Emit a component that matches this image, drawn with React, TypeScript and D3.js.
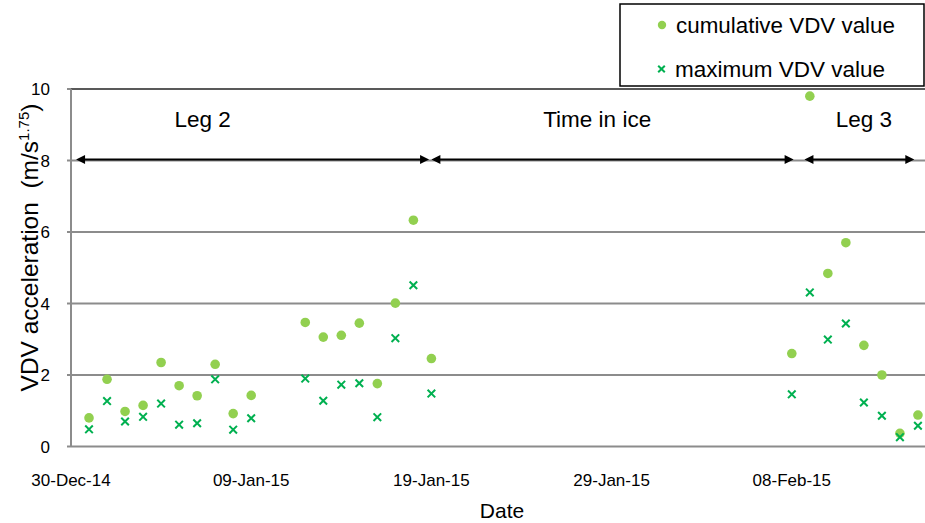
import React from "react";
import * as d3 from "d3";

const cumDates = ["2014-12-31","2015-01-01","2015-01-02","2015-01-03","2015-01-04","2015-01-05","2015-01-06","2015-01-07","2015-01-08","2015-01-09","2015-01-12","2015-01-13","2015-01-14","2015-01-15","2015-01-16","2015-01-17","2015-01-18","2015-01-19","2015-02-08","2015-02-09","2015-02-10","2015-02-11","2015-02-12","2015-02-13","2015-02-14","2015-02-15"];
const cumulativeVDV = [0.80,1.88,0.98,1.15,2.35,1.70,1.42,2.30,0.92,1.43,3.47,3.06,3.11,3.45,1.76,4.01,6.33,2.46,2.60,9.80,4.84,5.70,2.83,2.00,0.37,0.88];
const maximumVDV = [0.48,1.27,0.70,0.83,1.20,0.61,0.65,1.88,0.47,0.79,1.90,1.28,1.73,1.77,0.82,3.03,4.51,1.48,1.46,4.31,2.99,3.44,1.23,0.86,0.26,0.58];
const yTicks = [0, 2, 4, 6, 8, 10];
const xTickDates = ["2014-12-30","2015-01-09","2015-01-19","2015-01-29","2015-02-08"];
const legNames = ["Leg 2", "Time in ice", "Leg 3"];
const legStartDays = [0.28, 20.0, 40.7];
const legEndDays = [19.87, 40.1, 46.8];
const legLabelDays = [7.3, 29.2, 44.0];
const arrowValue = 8;

const font = "Arial, 'Liberation Sans', sans-serif";
const parse = (s: string) => new Date(s + "T00:00:00Z");
const fmt = d3.utcFormat("%d-%b-%y");

export default function App() {
  const W = 925, H = 523;
  const t0 = parse("2014-12-30");
  const x = d3.scaleUtc().domain([t0, parse("2015-02-17")]).range([71, 71 + 18.02 * 49]);
  const y = d3.scaleLinear().domain([0, 10]).range([446.5, 89]);
  const dayX = (d: number) => x(new Date(t0.getTime() + d * 86400000));
  const left = 71, right = W;

  const arrowHead = (tipX: number, yy: number, dir: number) => {
    const L = 9, h = 4.5;
    return `M${tipX},${yy} L${tipX - dir * L},${yy - h} L${tipX - dir * L},${yy + h} Z`;
  };
  const cross = (cx: number, cy: number, s = 4) => `M${cx - s},${cy - s} L${cx + s},${cy + s} M${cx - s},${cy + s} L${cx + s},${cy - s}`;

  return (
    <svg width={W} height={H} style={{ position: "absolute", left: 0, top: 0, background: "#fff" }} fontFamily={font}>
      <rect x={0} y={0} width={W} height={H} fill="#fff" />
      {yTicks.map((t) => (
        <g key={t}>
          {t > 0 && <line x1={left} x2={right} y1={y(t)} y2={y(t)} stroke={t === 10 ? "#595959" : "#8c8c8c"} strokeWidth={2} />}
          <line x1={left - 4} x2={left} y1={y(t)} y2={y(t)} stroke="#8c8c8c" strokeWidth={2} />
          <text x={50} y={y(t) + 6} textAnchor="end" fontSize={17} fill="#000">{t}</text>
        </g>
      ))}
      <line x1={left} x2={left} y1={y(10)} y2={y(0)} stroke="#8c8c8c" strokeWidth={2} />
      <line x1={left} x2={right} y1={y(0)} y2={y(0)} stroke="#8c8c8c" strokeWidth={2} />
      {xTickDates.map((d) => (
        <text key={d} x={x(parse(d))} y={486} textAnchor="middle" fontSize={17} fill="#000">{fmt(parse(d))}</text>
      ))}
      <text x={502} y={518} textAnchor="middle" fontSize={21} fill="#000">Date</text>
      <text transform={`translate(38,247.5) rotate(-90)`} textAnchor="middle" fontSize={24.5} fill="#000">
        VDV acceleration{"\u00a0\u00a0"}(m/s<tspan dy={-9} fontSize={15}>1.75</tspan><tspan dy={9}>)</tspan>
      </text>

      {legNames.map((n, i) => {
        const yy = y(arrowValue) - 1;
        const x1 = dayX(legStartDays[i]);
        const x2 = dayX(legEndDays[i]);
        return (
          <g key={n}>
            <line x1={x1 + 6} x2={x2 - 6} y1={yy} y2={yy} stroke="#000" strokeWidth={2} />
            <path d={arrowHead(x1, yy, -1)} fill="#000" />
            <path d={arrowHead(x2, yy, 1)} fill="#000" />
            <text x={dayX(legLabelDays[i])} y={127} textAnchor="middle" fontSize={22.5} fill="#000">{n}</text>
          </g>
        );
      })}

      {cumDates.map((d, i) => (
        <circle key={"c" + d} cx={x(parse(d))} cy={y(cumulativeVDV[i])} r={4.8} fill="#92d050" />
      ))}
      {cumDates.map((d, i) => (
        <path key={"m" + d} d={cross(x(parse(d)), y(maximumVDV[i]), 3.8)} stroke="#00b050" strokeWidth={2} fill="none" />
      ))}

      <rect x={620} y={4} width={304} height={82} fill="#fff" stroke="#000" strokeWidth={1.5} />
      <circle cx={662} cy={25} r={4.2} fill="#92d050" />
      <text x={676} y={33} fontSize={22} textLength={219} lengthAdjust="spacingAndGlyphs" fill="#000">cumulative VDV value</text>
      <path d={cross(661.5, 69, 3.3)} stroke="#00b050" strokeWidth={2} fill="none" />
      <text x={675} y={77} fontSize={22} textLength={210} lengthAdjust="spacingAndGlyphs" fill="#000">maximum VDV value</text>
    </svg>
  );
}
